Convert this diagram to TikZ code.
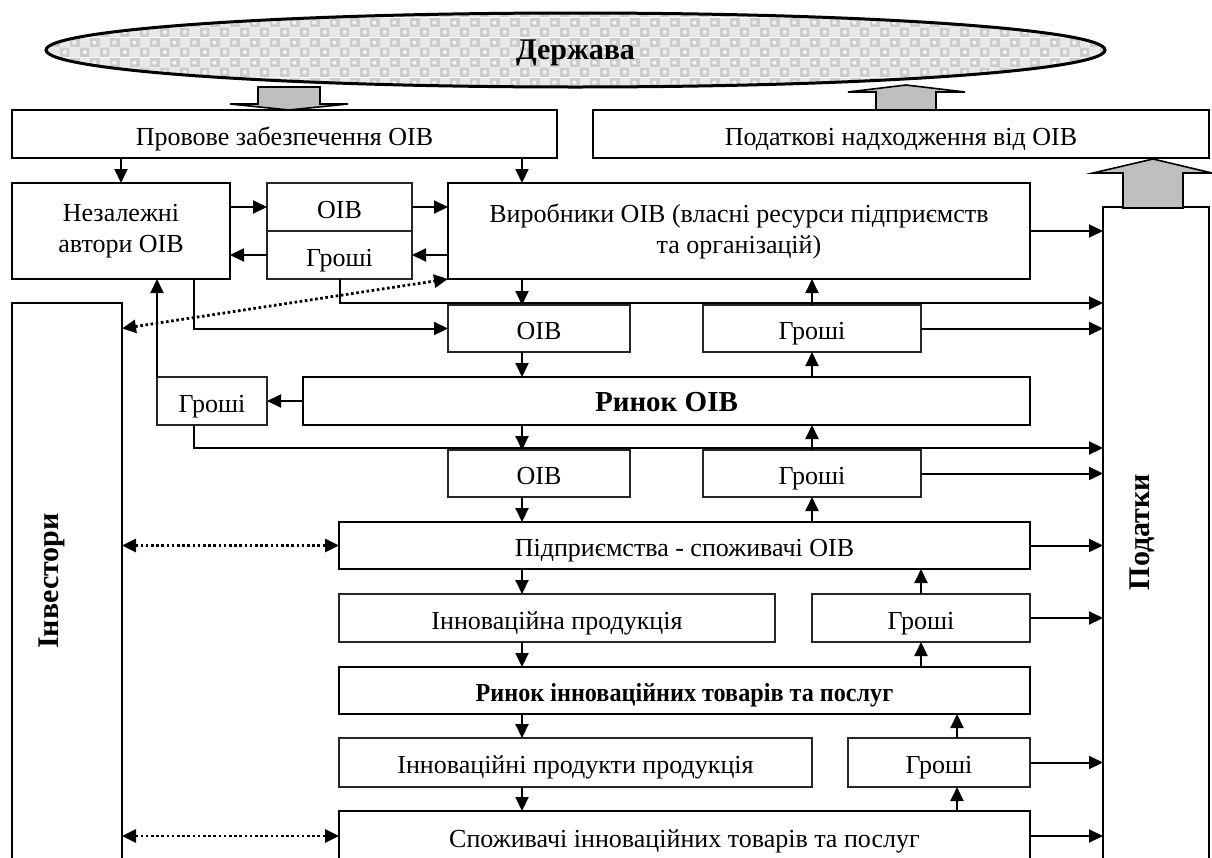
\documentclass[tikz,border=0pt]{standalone}
\usepackage{fontspec}
\setmainfont{Liberation Serif}
\usepackage{graphicx}
\usetikzlibrary{arrows.meta,shapes.geometric,patterns.meta}
\newcommand\fs{\fontsize{26}{31}\selectfont}
\newcommand\fb{\fontsize{30}{34}\selectfont\bfseries}
\tikzdeclarepattern{
  name=chk, type=colored,
  bounding box={(0pt,0pt) and (20pt,20pt)},
  tile size={(20pt,20pt)},
  code={
    \fill[gray!40] (0pt,0pt) rectangle (10pt,10pt);
    \fill[gray!40] (10pt,10pt) rectangle (20pt,20pt);
    \fill[gray!18] (10pt,0pt) rectangle (20pt,10pt);
    \fill[gray!18] (0pt,10pt) rectangle (10pt,20pt);
    \fill[gray!10] (5pt,5pt) circle (2.2pt);
    \fill[gray!10] (15pt,15pt) circle (2.2pt);
  }
}
\tikzset{
  thickbox/.style={draw, line width=2.4pt, inner sep=0pt, outer sep=0pt, anchor=north west, font=\fs, align=center},
  thinbox/.style={draw=black!85, line width=1.2pt, inner sep=0pt, outer sep=0pt, anchor=north west, font=\fs, align=center},
  low/.style={text height=24pt, text depth=2pt},
  arr/.style={line width=2pt, -{Triangle[length=14pt,width=13pt]}},
  dotarr/.style={line width=2.8pt, dash pattern=on 2.6pt off 2.6pt, {Triangle[length=14pt,width=13pt]}-{Triangle[length=14pt,width=13pt]}},
  blockarrow/.style={draw, line width=1.6pt, fill=gray!50, line join=miter},
  collabel/.style={font=\fb, rotate=90, inner sep=0pt}
}
\begin{document}
\begin{tikzpicture}[x=1pt,y=-1pt]
\useasboundingbox (0,0) rectangle (1212,857);
\begin{scope}
\clip (0,0) rectangle (1212,857);
\fill[white] (0,0) rectangle (1212,857);

% helper coordinates
\coordinate (cA) at (522,0);
\coordinate (cD) at (957,0);
\coordinate (c194) at (194,0);
\coordinate (r303) at (0,303);
\coordinate (r448) at (0,448);

% state ellipse
\node[ellipse, draw, line width=3pt, pattern=chk, minimum width=1059pt, minimum height=74pt, inner sep=0pt, font=\fb, text height=22pt, text depth=4pt] (derzh) at (575.5,50) {Держава};

% block arrows
\draw[blockarrow] (258,87) -- (320,87) -- (320,104) -- (348,104) -- (289,110) -- (230,104) -- (258,104) -- cycle;
\draw[blockarrow] (876,110) -- (936,110) -- (936,92) -- (965,92) -- (906,85) -- (848,92) -- (876,92) -- cycle;

% top boxes
\node[thickbox, low, minimum width=545pt, minimum height=48pt] (prov) at (12,110) {Провове забезпечення ОІВ};
\node[thickbox, low, minimum width=616pt, minimum height=48pt] (podn) at (593,110) {Податкові надходження від ОІВ};

% columns
\node[thickbox, minimum width=106pt, minimum height=700pt] (podat) at (1103,207) {};
\node[thickbox, minimum width=110pt, minimum height=600pt] (invest) at (12,303) {};
\node[collabel] at (1142,532) {Податки};
\node[collabel] at (52,581) {Інвестори};

\draw[blockarrow] (1123,208) -- (1183,208) -- (1183,173) -- (1212,173) -- (1153,159) -- (1093,173) -- (1123,173) -- cycle;

% second row
\node[thickbox, minimum width=218pt, minimum height=96pt] (nez) at (12,183) {Незалежні\\автори ОІВ};
\node[thinbox, low, minimum width=145pt, minimum height=48pt] (oibS) at (267,183) {ОІВ};
\node[thinbox, low, minimum width=145pt, minimum height=48pt] (grS) at (267,231) {Гроші};
\node[thickbox, minimum width=582pt, minimum height=96pt] (vyr) at (448,183) {Виробники ОІВ (власні ресурси підприємств\\та організацій)};

\node[thinbox, low, minimum width=182pt, minimum height=47pt] (oib2) at (448,305) {ОІВ};
\node[thinbox, low, minimum width=218pt, minimum height=47pt] (gr2) at (703,305) {Гроші};

\node[thinbox, low, minimum width=110pt, minimum height=48pt] (grL) at (157,377) {Гроші};
\node[thickbox, minimum width=727pt, minimum height=48pt, font=\fontsize{29}{33}\selectfont\bfseries, text height=23pt, text depth=3pt] (rynok) at (303,377) {Ринок ОІВ};

\node[thinbox, low, minimum width=182pt, minimum height=47pt] (oib4) at (448,450) {ОІВ};
\node[thinbox, low, minimum width=218pt, minimum height=47pt] (gr4) at (703,450) {Гроші};

\node[thickbox, low, minimum width=691pt, minimum height=47pt] (pidpr) at (339,522) {Підприємства - споживачі ОІВ};
\node[thinbox, low, minimum width=436pt, minimum height=48pt] (innprod) at (339,594) {Інноваційна продукція};
\node[thinbox, low, minimum width=218pt, minimum height=48pt] (gr6) at (812,594) {Гроші};
\node[thickbox, low, minimum width=691pt, minimum height=47pt] (rynokInn) at (339,667) {\scalebox{0.93}[1]{\bfseries Ринок інноваційних товарів та послуг}};
\node[thinbox, low, minimum width=473pt, minimum height=49pt] (innprod2) at (339,738) {Інноваційні продукти продукція};
\node[thinbox, low, minimum width=182pt, minimum height=49pt] (gr8) at (848,738) {Гроші};
\node[thickbox, low, minimum width=691pt, minimum height=50pt] (spozh) at (339,811) {Споживачі інноваційних товарів та послуг};

% connectors
\draw[arr] (prov.south -| nez.north) -- (nez.north);
\draw[arr] (prov.south -| cA) -- (vyr.north -| cA);
\draw[arr] (nez.east |- oibS.west) -- (oibS.west);
\draw[arr] (oibS.east) -- (vyr.west |- oibS.east);
\draw[arr] (vyr.west |- grS.east) -- (grS.east);
\draw[arr] (grS.west) -- (nez.east |- grS.west);
\draw[arr] (vyr.east) -- (podat.west |- vyr.east);
\draw[arr] (grS.south) |- (podat.west |- r303);
\draw[arr] (nez.south -| c194) |- (oib2.west);
\draw[dotarr] (invest.east |- oib2.west) -- (vyr.south west);
\draw[arr] (vyr.south -| cA) -- (oib2.north -| cA);
\draw[arr] (gr2.north) -- (vyr.south -| gr2.north);
\draw[arr] (gr2.east) -- (podat.west |- gr2.east);
\draw[arr] (oib2.south -| cA) -- (rynok.north -| cA);
\draw[arr] (rynok.north -| gr2.south) -- (gr2.south);
\draw[arr] (rynok.west) -- (grL.east);
\draw[arr] (grL.north west) -- (nez.south -| grL.north west);
\draw[arr] (grL.south -| c194) |- (podat.west |- r448);
\draw[arr] (rynok.south -| cA) -- (oib4.north -| cA);
\draw[arr] (gr4.north) -- (rynok.south -| gr4.north);
\draw[arr] (gr4.east) -- (podat.west |- gr4.east);
\draw[arr] (oib4.south -| cA) -- (pidpr.north -| cA);
\draw[arr] (pidpr.north -| gr4.south) -- (gr4.south);
\draw[arr] (pidpr.east) -- (podat.west |- pidpr.east);
\draw[dotarr] (invest.east |- pidpr.west) -- (pidpr.west);
\draw[arr] (pidpr.south -| cA) -- (innprod.north -| cA);
\draw[arr] (gr6.north) -- (pidpr.south -| gr6.north);
\draw[arr] (gr6.east) -- (podat.west |- gr6.east);
\draw[arr] (innprod.south -| cA) -- (rynokInn.north -| cA);
\draw[arr] (rynokInn.north -| gr6.south) -- (gr6.south);
\draw[arr] (rynokInn.south -| cA) -- (innprod2.north -| cA);
\draw[arr] (gr8.north -| cD) -- (rynokInn.south -| cD);
\draw[arr] (gr8.east) -- (podat.west |- gr8.east);
\draw[arr] (innprod2.south -| cA) -- (spozh.north -| cA);
\draw[arr] (spozh.north -| cD) -- (gr8.south -| cD);
\draw[arr] (spozh.east) -- (podat.west |- spozh.east);
\draw[dotarr] (invest.east |- spozh.west) -- (spozh.west);
\end{scope}
\end{tikzpicture}
\end{document}
